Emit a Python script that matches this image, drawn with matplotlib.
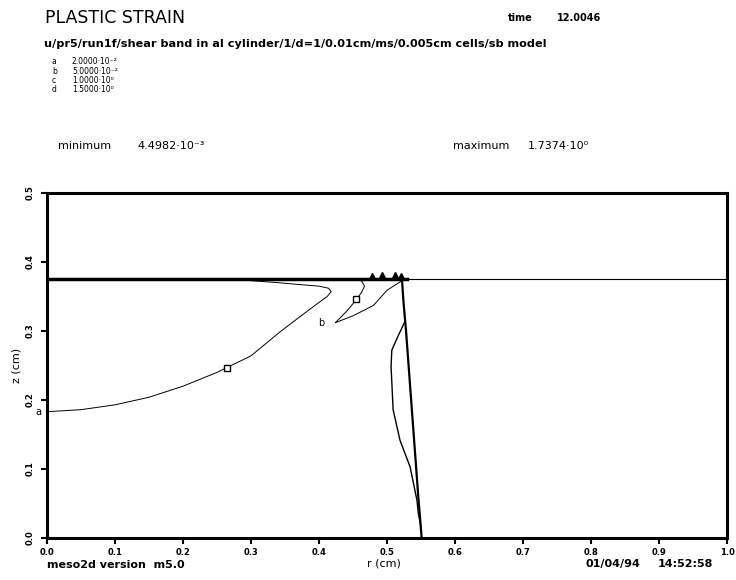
"""Plastic strain contours, mesa2d shear band in Al cylinder."""

import numpy as np
import matplotlib
matplotlib.use('Agg')
import matplotlib.pyplot as plt

W, H = 736, 580

# contour levels shown in the legend block
level_keys = ['a', 'b', 'c', 'd']
level_texts = ['2.0000\u00b710\u207b\u00b2', '5.0000\u00b710\u207b\u00b2',
               '1.0000\u00b710\u2070', '1.5000\u00b710\u2070']

# free surface of the cylinder
surface_r = [0.0, 1.0]
surface_z = [0.376, 0.376]
surface_thick_r = [0.0, 0.53]

# contour a (0.02)
a_r = [0.0, 0.05, 0.10, 0.15, 0.20, 0.25, 0.30, 0.343, 0.375, 0.398, 0.412,
       0.418, 0.414, 0.40, 0.375, 0.34, 0.30, 0.265]
a_z = [0.183, 0.186, 0.193, 0.204, 0.220, 0.240, 0.264, 0.299, 0.323, 0.340,
       0.350, 0.357, 0.362, 0.365, 0.367, 0.370, 0.373, 0.376]
a_mark = (0.265, 0.247)

# contour b (0.05)
b_r = [0.455, 0.463, 0.467, 0.462, 0.453, 0.44, 0.424, 0.45, 0.48, 0.50,
       0.519, 0.53]
b_z = [0.376, 0.372, 0.365, 0.355, 0.343, 0.328, 0.312, 0.322, 0.337, 0.359,
       0.371, 0.376]
b_mark = (0.455, 0.346)

# contour c (1.0) - straight band
c_r = [0.522, 0.524, 0.528, 0.534, 0.540, 0.546, 0.551]
c_z = [0.376, 0.345, 0.30, 0.22, 0.14, 0.06, 0.0]

# contour d (1.5) - loop inside the band
d_r = [0.526, 0.515, 0.507, 0.506, 0.509, 0.519, 0.534, 0.544, 0.546, 0.550]
d_z = [0.313, 0.29, 0.272, 0.248, 0.186, 0.142, 0.103, 0.055, 0.036, 0.016]

# small blobs at the surface
blob_r = [0.478, 0.492, 0.512, 0.52]
blob_z = [0.379, 0.381, 0.381, 0.379]

xticks = np.round(np.arange(0.0, 1.01, 0.1), 1)
yticks = np.round(np.arange(0.0, 0.51, 0.1), 1)

fig = plt.figure(figsize=(W / 100, H / 100), dpi=100)


def ftext(x, y, s, **kw):
    # place text in pixel coordinates measured from the top left
    fig.text(x / W, 1 - y / H, s, **kw)


ftext(45, 18, 'PLASTIC STRAIN', fontsize=12.5, va='center')
ftext(508, 18, 'time', fontsize=7, va='center', fontweight='bold')
ftext(557, 18, '12.0046', fontsize=7, va='center', fontweight='bold')
ftext(44, 44, 'u/pr5/run1f/shear band in al cylinder/1/d=1/0.01cm/ms/'
      '0.005cm cells/sb model', fontsize=8.1, va='center', fontweight='bold')

for i, (k, s) in enumerate(zip(level_keys, level_texts)):
    y = 62 + i * 9
    ftext(52, y, k, fontsize=5.5, va='center')
    ftext(72, y, s, fontsize=5.5, va='center')

ftext(58, 146, 'minimum', fontsize=8, va='center')
ftext(137, 146, '4.4982\u00b710\u207b\u00b3', fontsize=8, va='center')
ftext(453, 146, 'maximum', fontsize=8, va='center')
ftext(528, 146, '1.7374\u00b710\u2070', fontsize=8, va='center')

ftext(47, 565, 'meso2d version  m5.0', fontsize=8, va='center',
      fontweight='bold')
ftext(367, 564, 'r (cm)', fontsize=8, va='center')
ftext(585, 564, '01/04/94', fontsize=8, va='center', fontweight='bold')
ftext(658, 564, '14:52:58', fontsize=8, va='center', fontweight='bold')

ax = fig.add_axes([47 / W, 42 / H, 680 / W, 345 / H])
ax.set_xlim(0.0, 1.0)
ax.set_ylim(0.0, 0.5)

ax.plot(surface_r, surface_z, color='black', lw=0.8)
ax.plot(surface_thick_r, surface_z, color='black', lw=2.5)
ax.plot(a_r, a_z, color='black', lw=0.7)
ax.plot(b_r, b_z, color='black', lw=0.7)
ax.plot(c_r, c_z, color='black', lw=1.6)
ax.plot(d_r, d_z, color='black', lw=1.0)
ax.plot(blob_r, blob_z, '^', color='black', ms=4)

ax.plot(*a_mark, 's', mfc='white', mec='black', ms=4, mew=1)
ax.plot(*b_mark, 's', mfc='white', mec='black', ms=4, mew=1)
ax.text(-0.013, 0.183, 'a', fontsize=7, ha='center', va='center',
        clip_on=False)
ax.text(0.404, 0.312, 'b', fontsize=7, ha='center', va='center')

for sp in ax.spines.values():
    sp.set_linewidth(2.2)

ax.set_xticks(xticks)
ax.set_xticklabels(['%.1f' % v for v in xticks], fontsize=6,
                   fontweight='bold')
ax.set_yticks(yticks)
ax.set_yticklabels(['%.1f' % v for v in yticks], fontsize=6,
                   fontweight='bold', rotation=90, va='center')
ax.tick_params(direction='out', length=4, width=1.5, pad=3)
ax.tick_params(axis='y', pad=5)
ax.set_ylabel('z (cm)', fontsize=8, labelpad=3)

fig.savefig('out.png', dpi=100)
